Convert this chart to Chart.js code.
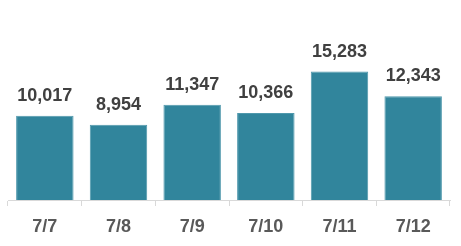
<!DOCTYPE html>
<html>
<head>
<meta charset="utf-8">
<script src="https://cdn.jsdelivr.net/npm/chart.js@4/dist/chart.umd.min.js"></script>
<style>
  html, body { margin: 0; padding: 0; background: #fff; }
  #wrap { width: 461px; height: 246px; }
</style>
</head>
<body>
<div id="wrap"><canvas id="salesChart"></canvas></div>
<script>
// daily values
var days = ["7/7", "7/8", "7/9", "7/10", "7/11", "7/12"];
var totals = [10017, 8954, 11347, 10366, 15283, 12343];

// numbers above each bar
var barLabels = {
    id: 'barLabels',
    afterDatasetsDraw: function(chart) {
        var ctx = chart.ctx;
        var meta = chart.getDatasetMeta(0);
        ctx.save();
        ctx.font = 'bold 18px "Liberation Sans", Arial, sans-serif';
        ctx.fillStyle = '#404040';
        ctx.textAlign = 'center';
        ctx.textBaseline = 'bottom';
        meta.data.forEach(function(bar, i) {
            ctx.fillText(totals[i].toLocaleString('en-US'), bar.x, bar.y - 11);
        });
        ctx.restore();
    }
};

var config = {
    type: 'bar',
    data: {
        labels: days,
        datasets: [{
            data: totals,
            backgroundColor: '#31859c',
            borderColor: '#4f98ac',
            borderWidth: 1,
            barPercentage: 0.78,
            categoryPercentage: 1.0
        }]
    },
    options: {
        responsive: true,
        maintainAspectRatio: false,
        animation: false,
        layout: {
            padding: { left: 8, right: 11, top: 32, bottom: 0 }
        },
        plugins: {
            legend: { display: false },
            tooltip: { enabled: false }
        },
        scales: {
            y: {
                display: false,
                min: 0,
                max: 20000
            },
            x: {
                offset: true,
                afterFit: function(scale) { scale.height = 46; },
                border: { color: '#d9d9d9', width: 1 },
                grid: {
                    offset: true,
                    drawOnChartArea: false,
                    drawTicks: true,
                    tickLength: 6,
                    color: '#d9d9d9'
                },
                ticks: {
                    color: '#595959',
                    padding: 10,
                    font: { family: '"Liberation Sans", Arial, sans-serif', size: 18, weight: 'bold' }
                }
            }
        }
    },
    plugins: [barLabels]
};

var salesCtx = document.getElementById("salesChart");
var salesChart = new Chart(salesCtx, config);
</script>
</body>
</html>
